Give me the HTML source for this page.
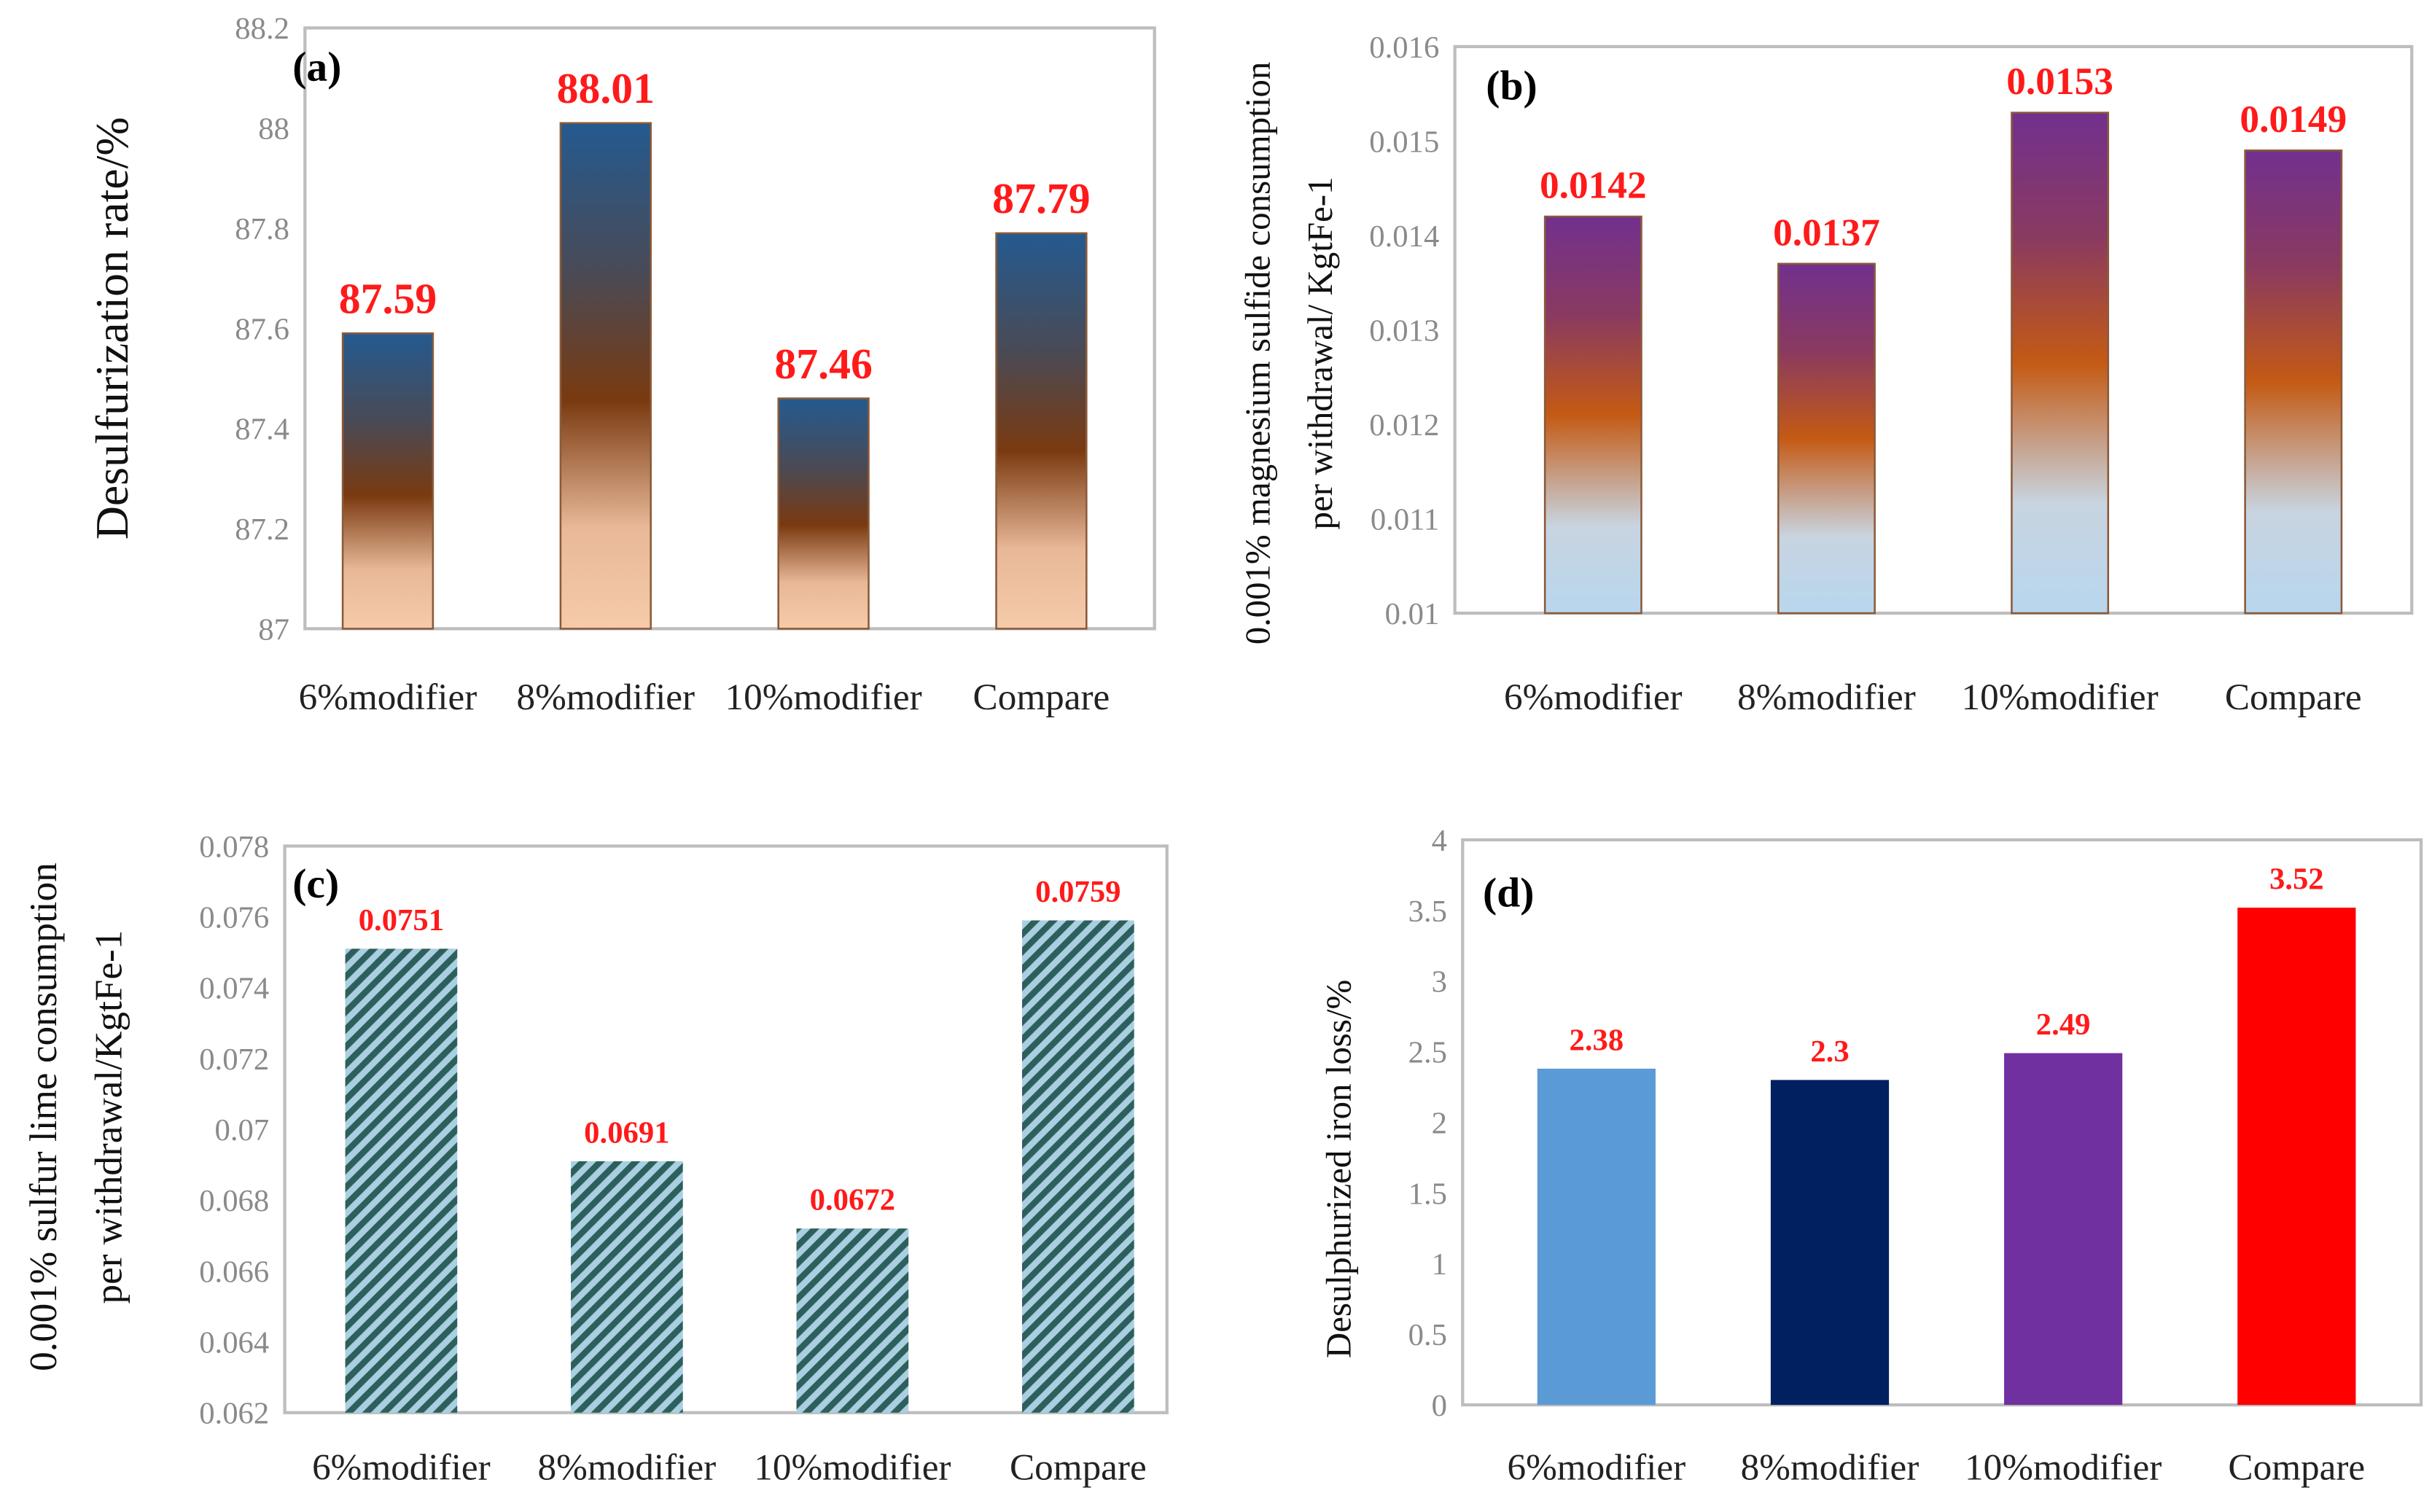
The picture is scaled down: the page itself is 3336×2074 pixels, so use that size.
<!DOCTYPE html>
<html><head><meta charset="utf-8"><style>
html,body{margin:0;padding:0;background:#fff;}
svg{display:block;}
text{font-family:"Liberation Serif",serif;}
</style></head><body>
<svg id="c" width="3336" height="2074" viewBox="0 0 1563 974" preserveAspectRatio="none" xmlns="http://www.w3.org/2000/svg">
<defs>
<linearGradient id="ga" x1="0" y1="0" x2="0" y2="1">
<stop offset="0" stop-color="#245a90"/><stop offset="0.3" stop-color="#4a4a55"/><stop offset="0.55" stop-color="#7a3a10"/><stop offset="0.8" stop-color="#e8b898"/><stop offset="1" stop-color="#f5cbaa"/></linearGradient>
<linearGradient id="gb" x1="0" y1="0" x2="0" y2="1">
<stop offset="0" stop-color="#72308e"/><stop offset="0.25" stop-color="#8a3a60"/><stop offset="0.5" stop-color="#c45a14"/><stop offset="0.78" stop-color="#c8d4e0"/><stop offset="1" stop-color="#b8d6ee"/></linearGradient>
<pattern id="hc" width="8" height="8" patternUnits="userSpaceOnUse" patternTransform="rotate(45)">
<rect width="8" height="8" fill="#a9cfe0"/><rect width="4" height="8" fill="#2d5f5c"/></pattern>
</defs>
</svg>
<script>
const categories=["6%modifier","8%modifier","10%modifier","Compare"];
const valuesA=[87.59,88.01,87.46,87.79];
const labelsA=["87.59","88.01","87.46","87.79"];
const ticksA=["87","87.2","87.4","87.6","87.8","88","88.2"];
const valuesB=[0.0142,0.0137,0.0153,0.0149];
const labelsB=["0.0142","0.0137","0.0153","0.0149"];
const ticksB=["0.01","0.011","0.012","0.013","0.014","0.015","0.016"];
const valuesC=[0.0751,0.0691,0.0672,0.0759];
const labelsC=["0.0751","0.0691","0.0672","0.0759"];
const ticksC=["0.062","0.064","0.066","0.068","0.07","0.072","0.074","0.076","0.078"];
const valuesD=[2.38,2.3,2.49,3.52];
const labelsD=["2.38","2.3","2.49","3.52"];
const ticksD=["0","0.5","1","1.5","2","2.5","3","3.5","4"];

const svg=document.getElementById('c');
const NS="http://www.w3.org/2000/svg";
function mk(tag,attrs,parent){const e=document.createElementNS(NS,tag);for(const k in attrs)e.setAttribute(k,attrs[k]);(parent||svg).appendChild(e);return e;}

function panel(o){
  const g=mk('g',{});
  
  
  const ymin=+o.ticks[0],ymax=+o.ticks[o.ticks.length-1];
  const yS=v=>o.y1-(v-ymin)/(ymax-ymin)*(o.y1-o.y0);
  const fr=mk('rect',{x:o.x0,y:o.y0,width:o.x1-o.x0,height:o.y1-o.y0,fill:'none',stroke:'#bdbdbd','stroke-width':2},g);
  
  
  o.ticks.forEach(t=>{
    const tx=mk('text',{x:o.x0-10,y:yS(+t)+7,'text-anchor':'end','font-size':20,fill:'#8a8a8a'},g);
    tx.textContent=t;
    
    
  });
  const n=o.vals.length,step=o.step||(o.x1-o.x0)/n;
  o.vals.forEach((v,i)=>{
    const cx=o.x0+(o.x1-o.x0)/n*0.5+step*i+o.off;
    const fill=Array.isArray(o.fill)?o.fill[i]:o.fill;
    const r=mk('rect',{x:cx-o.bw/2,y:yS(v),width:o.bw,height:o.y1-yS(v),fill:fill,stroke:o.stroke||'none','stroke-width':1.2},g);
    
    
    const vl=mk('text',{x:cx,y:yS(v)-o.vgap,'text-anchor':'middle','font-size':o.vfs,'font-weight':'bold',fill:'#ff1a1a'},g);
    vl.textContent=o.labels[i];
    
    
    const cl=mk('text',{x:cx,y:o.catY,'text-anchor':'middle','font-size':24,fill:'#222'},g);
    cl.textContent=categories[i];
    
    
  });
  const pl=mk('text',{x:o.x0+(o.letterDx||-8),y:o.y0+(o.letterDy||33),'font-size':27,'font-weight':'bold',fill:'#000'},g);
  pl.textContent=o.letter;
  
  
  const cy=(o.y0+o.y1)/2+(o.tdy||0);
  o.title.forEach((line,k)=>{
    const tx=o.tx+k*o.tlh;
    const t=mk('text',{x:tx,y:cy,'text-anchor':'middle','font-size':o.tfs,fill:'#111',transform:`rotate(-90 ${tx} ${cy})`},g);
    t.textContent=line;
    
    
  });
}
panel({name:'panel-a-desulfurization-rate',x0:196,x1:742,y0:18,y1:405,ticks:ticksA,vals:valuesA,labels:labelsA,bw:58,off:-15,step:140,fill:'url(#ga)',stroke:'#8a5a3a',vfs:28,vgap:13,catY:457,letter:'(a)',letterDx:-8,letterDy:34,title:['Desulfurization rate/%'],tx:82,tlh:0,tfs:30,tdy:0});
panel({name:'panel-b-magnesium-consumption',x0:935,x1:1550,y0:30,y1:395,ticks:ticksB,vals:valuesB,labels:labelsB,bw:62,off:12,step:150,fill:'url(#gb)',stroke:'#8a5a3a',vfs:25,vgap:12,catY:457,letter:'(b)',letterDx:20,letterDy:34,title:['0.001% magnesium sulfide consumption','per withdrawal/ KgtFe-1'],tx:816,tlh:40,tfs:23,tdy:15});
panel({name:'panel-c-lime-consumption',x0:183,x1:750,y0:545,y1:910,ticks:ticksC,vals:valuesC,labels:labelsC,bw:72,off:4,step:145,fill:'url(#hc)',stroke:'none',vfs:20,vgap:12,catY:953,letter:'(c)',letterDx:5,letterDy:33,title:['0.001% sulfur lime consumption','per withdrawal/KgtFe-1'],tx:36,tlh:42,tfs:25,tdy:-8});
panel({name:'panel-d-iron-loss',x0:940,x1:1556,y0:541,y1:905,ticks:ticksD,vals:valuesD,labels:labelsD,bw:76,off:9,step:150,fill:['#5b9bd5','#002060','#7030a0','#ff0000'],stroke:'none',vfs:20,vgap:12,catY:953,letter:'(d)',letterDx:13,letterDy:43,title:['Desulphurized iron loss/%'],tx:868,tlh:0,tfs:23,tdy:30});
</script>
</body></html>
